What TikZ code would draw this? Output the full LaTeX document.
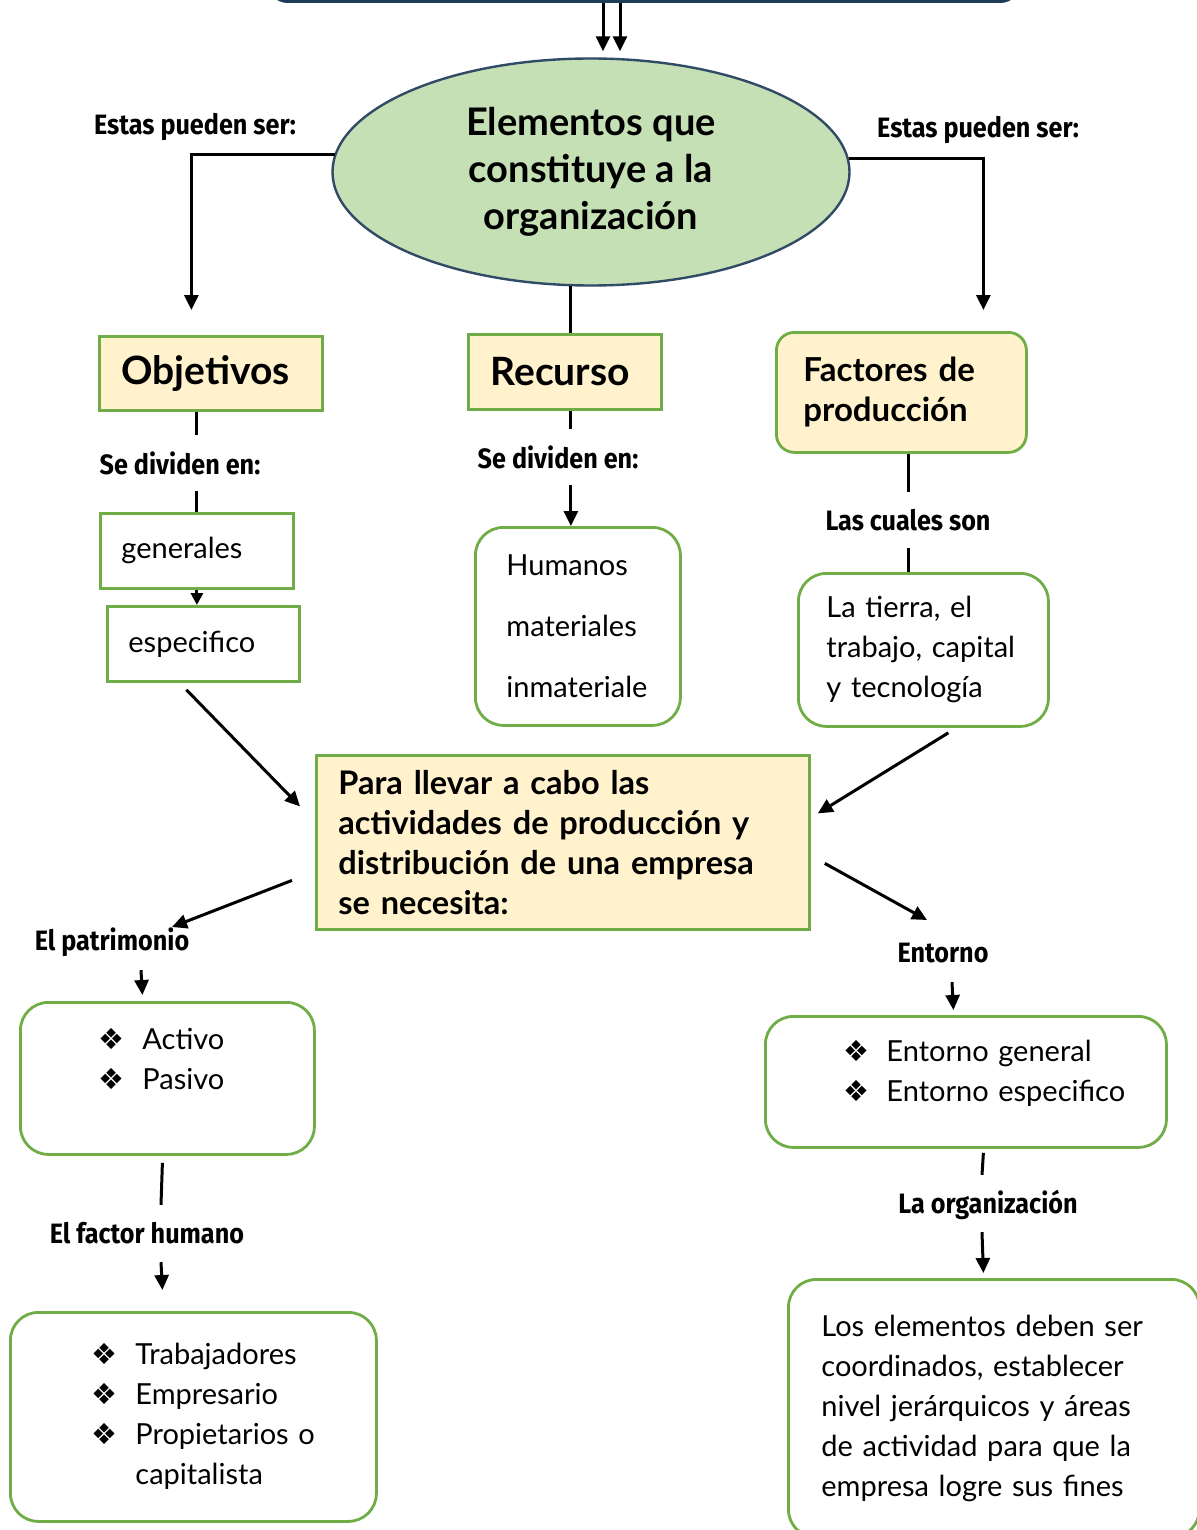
\documentclass[tikz,border=0pt]{standalone}
\usepackage{fontspec}
\setmainfont{Lato}
\newfontfamily\handfont{Fira Sans}[FakeStretch=0.9]
\newfontfamily\dingfont{DejaVu Sans}
\usetikzlibrary{shapes.geometric, arrows.meta, positioning, calc}

\definecolor{boxgreen}{HTML}{70AD47}
\definecolor{boxyellow}{HTML}{FFF2CC}
\definecolor{ovalgreen}{HTML}{C5E0B4}
\definecolor{ovalblue}{HTML}{2F4B66}
\definecolor{topblue}{HTML}{1F3B5A}

\newcommand{\bodyfont}{\fontsize{29}{40}\selectfont}
\newcommand{\bul}{{\dingfont\fontsize{29}{29}\selectfont ❖}}

\begin{document}
\begin{tikzpicture}[x=1pt,y=-1pt,
  box/.style={draw=boxgreen, line width=2.8pt, inner ysep=0pt, align=left, anchor=north west, font=\bodyfont},
  yelbox/.style={box, fill=boxyellow},
  rbox/.style={box, rounded corners=28pt},
  hand/.style={font=\handfont\bfseries\fontsize{28}{30}\selectfont, inner sep=0pt, minimum height=56pt},
  ln/.style={line width=3pt},
  arr/.style={ln, -{Triangle[width=14pt,length=15pt]}}]
\path[use as bounding box, fill=white] (0,0) rectangle (1196,1530);

% top of the map
\node[draw=topblue, line width=3pt, rounded corners=20pt, anchor=south, minimum width=752pt, minimum height=80pt] (top) at (644,3) {};
\node[ellipse, draw=ovalblue, line width=2.4pt, fill=ovalgreen, minimum width=517pt, minimum height=227pt, inner sep=0pt, align=center,
  font=\bfseries\fontsize{38}{47}\selectfont] (ell) at (591,172) {Elementos que\\constituye a la\\organización};
\draw[arr] ([shift={(-41,0)}]top.south) -- ([shift={(12,-6)}]ell.north);
\draw[arr] ([shift={(-24,0)}]top.south) -- ([shift={(29,-6)}]ell.north);

% first level
\node[yelbox, minimum width=223pt, minimum height=74pt, inner xsep=22pt, text width=179pt, font=\bfseries\fontsize{39}{40}\selectfont] (obj) at (98,335) {Objetivos};
\node[yelbox, minimum width=193pt, minimum height=75pt, inner xsep=22pt, text width=149pt, font=\bfseries\fontsize{39}{40}\selectfont] (rec) at (467,333) {Recurso};
\node[yelbox, rounded corners=18pt, minimum width=250pt, minimum height=120pt, inner xsep=27pt, text width=196pt, font=\bfseries\fontsize{33}{40}\selectfont] (fac) at (775,331) {Factores de\\producción};

\node[hand] (lbL) at (195,127) {Estas pueden ser:};
\node[hand] (lbR) at (978,130) {Estas pueden ser:};
\draw[arr] (ell.176) -| ([shift={(-19.5,-25)}]obj.north);
\draw[arr] (ell.3) -| ([shift={(82,-21)}]fac.north);
\draw[ln] (ell.260) -- (ell.260 |- rec.north);

% second level
\node[box, minimum width=193pt, minimum height=75pt, inner xsep=21pt, text width=151pt] (gen) at (99,512) {generales};
\node[box, minimum width=192pt, minimum height=75pt, inner xsep=21pt, text width=150pt] (esp) at (106,605) {especifico};
\node[rbox, minimum width=205pt, minimum height=198pt, inner xsep=31pt, text width=143pt, font=\fontsize{29}{61}\selectfont] (hum) at (474,526) {Humanos\\materiales\\inmateriale};
\node[rbox, minimum width=250pt, minimum height=153pt, inner xsep=28pt, text width=194pt] (tie) at (797,572) {La tierra, el\\trabajo, capital\\y tecnología};

\node[hand] (lbA) at (180,463) {Se dividen en:};
\node[hand] (lbB) at (558,457) {Se dividen en:};
\node[hand] (lbC) at (908,520) {Las cuales son};
\draw[ln] (gen.north |- obj.south) -- (gen.north |- lbA.north);
\draw[ln] (gen.north |- lbA.south) -- (gen.north);
\draw[arr, -{Triangle[width=12pt,length=12pt]}] (gen.south) -- (gen.south |- esp.north);
\draw[ln] (ell.260 |- rec.south) -- (ell.260 |- lbB.north);
\draw[arr] (ell.260 |- lbB.south) -- (ell.260 |- hum.north);
\draw[ln] (lbC.north |- fac.south) -- (lbC.north);
\draw[ln] (lbC.south) -- (lbC.south |- tie.north);

% central box
\node[yelbox, minimum width=493pt, minimum height=174pt, inner xsep=22pt, text width=449pt, font=\bfseries\fontsize{32.5}{40}\selectfont] (cen) at (315,754)
  {Para llevar a cabo las\\actividades de producción y\\distribución de una empresa\\se necesita:};
\draw[arr] ([shift={(-17,7)}]esp.south) -- ([shift={(-15,-36)}]cen.west);
\draw[arr] ([shift={(25,5)}]tie.south) -- ([shift={(7,-29)}]cen.east);

% left branch
\node[hand] (lbD) at (112,942) {El patrimonio};
\node[rbox, minimum width=294pt, minimum height=152pt, inner xsep=78pt, text width=138pt] (act) at (19,1001)
  {\begin{tabular}{@{}l@{\hspace{18pt}}l@{}}\bul & Activo\\ \bul & Pasivo\\[34pt]\end{tabular}};
\node[hand] (lbE) at (147,1233) {El factor humano};
\node[rbox, minimum width=366pt, minimum height=209pt, inner xsep=81pt, text width=204pt] (tra) at (9,1311)
  {\begin{tabular}{@{}l@{\hspace{18pt}}l@{}}\bul & Trabajadores\\ \bul & Empresario\\ \bul & Propietarios o\\ & capitalista\end{tabular}};
\draw[arr] ([shift={(-23,38)}]cen.west) -- ([shift={(60,-15)}]lbD.center);
\draw[arr] ([shift={(29,0)}]lbD.south) -- ([shift={(-25,-6)}]act.north);
\draw[ln] ([shift={(-5,7)}]act.south) -- ([shift={(14,0)}]lbE.north);
\draw[arr] ([shift={(14,1)}]lbE.south) -- ([shift={(-31,-21)}]tra.north);

% right branch
\node[hand] (lbF) at (943,953) {Entorno};
\node[rbox, minimum width=401pt, minimum height=131pt, inner xsep=78pt, text width=245pt] (ent) at (764,1015)
  {\begin{tabular}{@{}l@{\hspace{17pt}}l@{}}\bul & Entorno general\\ \bul & Entorno especifico\\[17pt]\end{tabular}};
\node[hand] (lbG) at (988,1205) {La organización};
\node[rbox, minimum width=411pt, minimum height=258pt, inner xsep=33pt, text width=345pt] (fin) at (787,1278)
  {Los elementos deben ser\\coordinados, establecer\\nivel jerárquicos y áreas\\de actividad para que la\\empresa logre sus fines};
\draw[arr] ([shift={(14,21)}]cen.east) -- ([shift={(-16,-33)}]lbF.center);
\draw[arr] ([shift={(9,1)}]lbF.south) -- ([shift={(-12.5,-5)}]ent.north);
\draw[ln] ([shift={(17.5,4)}]ent.south) -- ([shift={(-6,-2)}]lbG.north);
\draw[arr] ([shift={(-6,-1)}]lbG.south) -- ([shift={(-10.5,-5)}]fin.north);
\end{tikzpicture}
\end{document}
